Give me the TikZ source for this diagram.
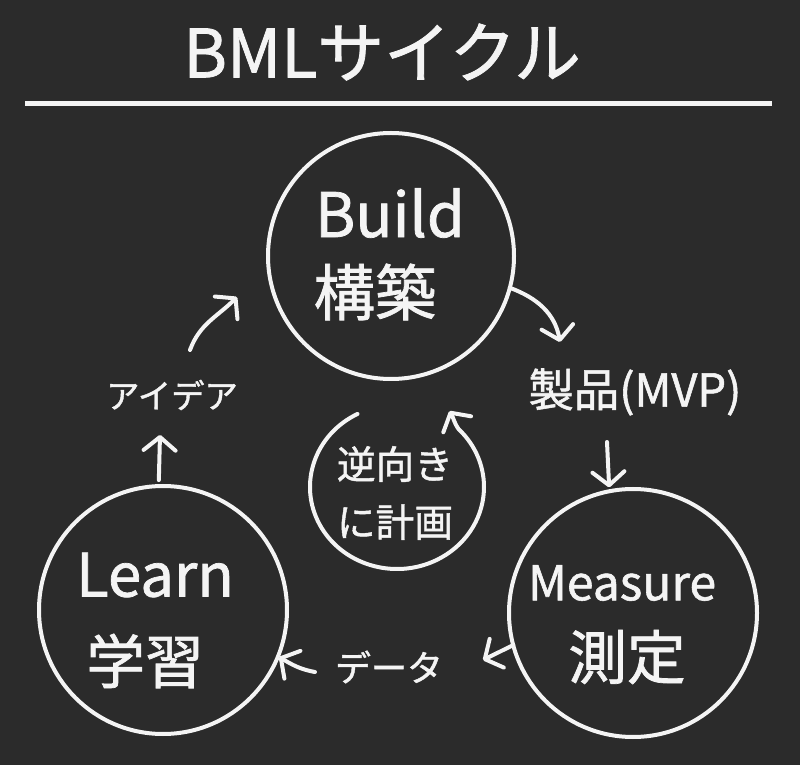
\documentclass[tikz,border=0pt]{standalone}
\usepackage{fontspec}
\usepackage{tikz}
\usetikzlibrary{arrows.meta}
\newfontfamily\jpfont[FakeBold=1.2]{Noto Sans CJK JP}
\definecolor{board}{HTML}{2B2B2B}
\definecolor{chalk}{HTML}{F4F4F4}
\tikzset{
  stage/.style={circle,draw=chalk,line width=3pt,minimum size=#1,inner sep=0pt,outer sep=0pt},
  chalktext/.style={text=chalk,inner sep=0pt,font=\jpfont\fontsize{#1}{#1}\selectfont},
  flow/.style={-{Straight Barb[length=10pt,width=24pt,round]},chalk,line width=3pt,line cap=round},
}
\begin{document}
\begin{tikzpicture}[x=0.75pt,y=0.75pt]
  \fill[board] (0,0) rectangle (800,765);
  \useasboundingbox (0,0) rectangle (800,765);
  % title and rule
  \node[chalktext=50] (title) at (382,713) {BMLサイクル};
  \draw[chalk,line width=3.75pt] (25,661) -- (772,661);
  % the three stages
  \node[stage=184.5pt] (build) at (391,509) {};
  \node[stage=186pt] (meas) at (633,152) {};
  \node[stage=186pt] (learn) at (163,155) {};
  \node[chalktext=46] (build en) at (390,552) {Build};
  \node[chalktext=46] (build ja) at (375,473) {構築};
  \node[chalktext=36] (meas en) at (622,182) {Measure};
  \node[chalktext=44] (meas ja) at (627,108) {測定};
  \node[chalktext=45] (learn en) at (155,190) {Learn};
  \node[chalktext=44] (learn ja) at (145,104) {学習};
  % what passes between them
  \node[chalktext=34] (mvp) at (635,373) {製品(MVP)};
  \node[chalktext=27] (data) at (389,98) {データ};
  \node[chalktext=25] (idea) at (172,370) {アイデア};
  \node[chalktext=29,align=center] (plan) at (395,272) {逆向き\\[14.5pt]に計画};
  \coordinate (t1) at (560,423);
  \coordinate (s2) at (607,323);
  \coordinate (t3) at (483,105);
  \coordinate (s4) at (315,93);
  \coordinate (t5) at (160,330);
  \coordinate (s6) at (190,415);
  \coordinate (t6) at (237,468);
  \coordinate (loop) at (397,278);
  % arrows
  \draw[flow] (build.-15) to[out=-20,in=100] (t1);
  \draw[flow,shorten >=3pt] (s2) -- (meas.101);
  \draw[flow] (meas.195) -- (t3);
  \draw[flow,shorten >=1pt] (s4) to[out=170,in=-30] (learn.-22);
  \draw[flow,shorten <=4.5pt] (learn.92) -- (t5);
  \draw[flow] (s6) to[out=70,in=225] (t6);
  \draw[flow] (loop) ++(117:87 and 82) arc[start angle=117,end angle=405,x radius=87,y radius=82]
    to[out=125,in=-60] ++(-9,18);
\end{tikzpicture}
\end{document}
